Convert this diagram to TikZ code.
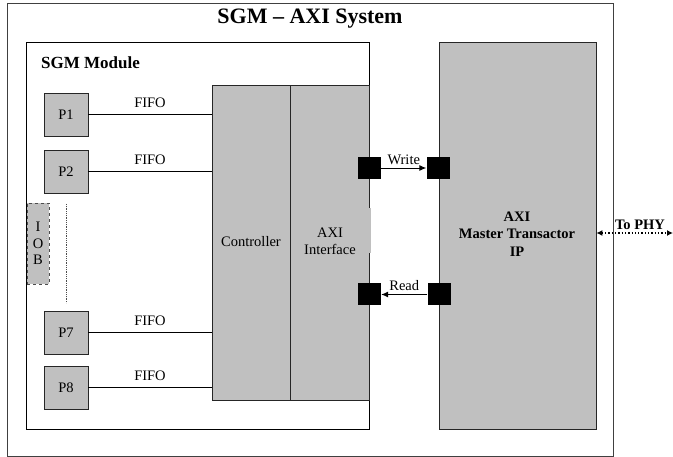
\documentclass[tikz,border=0pt]{standalone}
\usepackage{fontspec}
\setmainfont{Liberation Serif}
\usetikzlibrary{arrows.meta}
\definecolor{boxgray}{HTML}{C0C0C0}
\tikzset{
  frame/.style={draw=black!75, line width=0.9pt},
  graybox/.style={draw=black!85, fill=boxgray, line width=0.9pt, inner sep=0pt},
  pbox/.style={graybox, minimum width=44, minimum height=43, font=\fontsize{14.5}{17}\selectfont},
  port/.style={fill=black, draw=none, minimum width=23, minimum height=22, inner sep=0pt},
  wire/.style={draw=black, line width=0.9pt},
  lbl/.style={font=\fontsize{14.5}{17}\selectfont, inner sep=0pt},
  blbl/.style={font=\fontsize{14.5}{17.5}\selectfont\bfseries, inner sep=0pt, align=center},
  tip/.style={-{Latex[length=7pt,width=6pt]}}
}
\begin{document}
\begin{tikzpicture}[x=1pt,y=-1pt]
\useasboundingbox (0,0) rectangle (673,457);
% outer system box
\draw[frame] (7,3) rectangle (613,456);
\node[font=\fontsize{22}{24}\selectfont\bfseries, inner sep=0pt] (title) at (310,19) {SGM – AXI System};
% SGM module
\draw[wire] (26,42) rectangle (369,429);
\node[font=\fontsize{17}{19}\selectfont\bfseries, inner sep=0pt, anchor=west] (modlbl) at (41,63) {SGM Module};
% controller and AXI interface
\node[graybox, minimum width=78, minimum height=315] (ctrl) at (251,242.5) {};
\node[graybox, minimum width=79, minimum height=315] (axif) at (329.5,242.5) {};
\fill[boxgray] (355,208) rectangle (370.5,253);
\node[lbl] (ctrltext) at (251,242) {Controller};
\node[lbl, align=center] (axitext) at (330,241.5) {AXI\\Interface};
% AXI master transactor IP
\node[graybox, minimum width=157, minimum height=387] (ip) at (517.5,235.5) {};
\node[blbl] (iptext) at (517,234) {AXI\\Master Transactor\\IP};
% processors
\node[pbox] (p1) at (66,114.5) {P1};
\node[pbox] (p2) at (66,171.5) {P2};
\node[pbox] (p7) at (66,332.5) {P7};
\node[pbox] (p8) at (66,387.5) {P8};
\draw[wire] (p1.east) -- (p1.east -| ctrl.west) node[lbl, midway, above=6pt] {FIFO};
\draw[wire] (p2.east) -- (p2.east -| ctrl.west) node[lbl, midway, above=6pt] {FIFO};
\draw[wire] (p7.east) -- (p7.east -| ctrl.west) node[lbl, midway, above=6pt] {FIFO};
\draw[wire] (p8.east) -- (p8.east -| ctrl.west) node[lbl, midway, above=6pt] {FIFO};
% IOB
\node[graybox, draw=black!70, dashed, line width=0.9pt, minimum width=22, minimum height=81, align=center, font=\fontsize{14.5}{16.5}\selectfont] (iob) at (38,243.5) {I\\O\\B};
\coordinate (dtop) at (66,204);
\coordinate (dbot) at (66,303);
\draw[black!70, densely dotted, line width=0.8pt] (dtop) -- (dbot);
% ports
\node[port] (wl) at (369.5,168) {};
\node[port] (wr) at (438,168) {};
\node[port] (rl) at (369.5,294.5) {};
\node[port] (rr) at (439,294.5) {};
\draw[wire, tip] (wl.east) -- (wr.west) node[lbl, midway, above=3pt] {Write};
\draw[wire, tip] (rr.west) -- (rl.east) node[lbl, midway, above=3pt] {Read};
% To PHY
\coordinate (phy) at (673,233);
\draw[black, dotted, line width=1.3pt, {Latex[length=6pt,width=6pt]}-{Latex[length=6pt,width=6pt]}] (ip.east |- phy) -- (phy);
\node[blbl] (phytext) at (640,225) {To PHY};
\end{tikzpicture}
\end{document}
